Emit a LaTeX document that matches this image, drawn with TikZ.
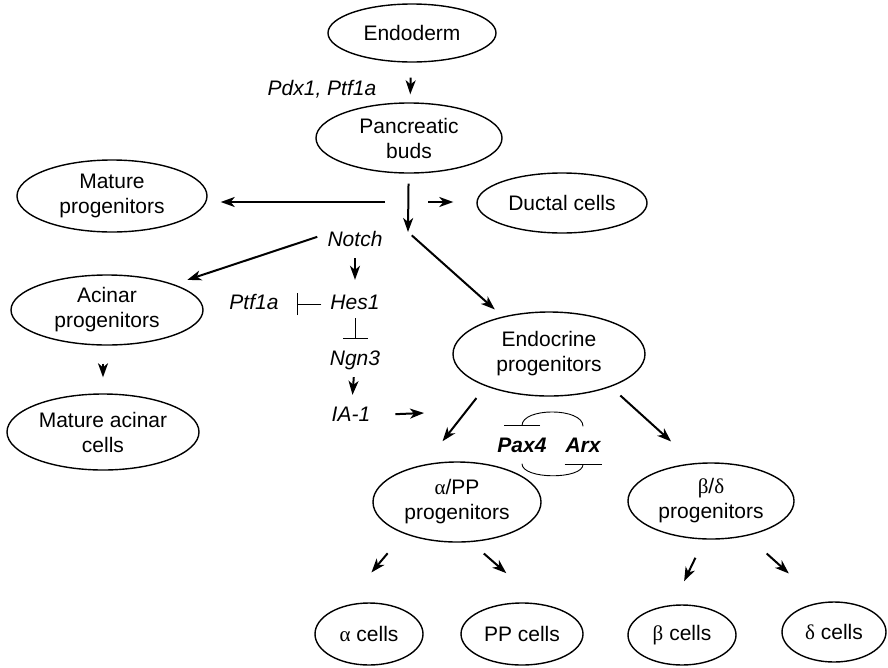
\documentclass[tikz,border=0pt]{standalone}
\usepackage{fontspec}
\setmainfont{Liberation Sans}
\newfontfamily\greekfont{Liberation Serif}
\usetikzlibrary{arrows.meta}
\usetikzlibrary{shapes}
\tikzset{
        celltext/.style={align=center,inner sep=0pt,font=\fontsize{21}{25}\selectfont},
        % Cell populations
        cell_pop/.style={celltext, ellipse, draw=black, line width=1.4pt},
        % Genes and signals
        gene/.style={celltext, font=\fontsize{21}{25}\selectfont\itshape, inner sep=2pt, text height=15pt, text depth=4pt},
        % Genes of the Pax4/Arx loop
        gene_bold/.style={gene, font=\fontsize{21}{25}\selectfont\bfseries\itshape, text depth=0pt, inner ysep=11pt},
        % Activation
        activates/.style={-{Stealth[length=14pt, width=10pt, inset=4pt]}, line width=2pt},
        % Repression
        represses/.style={-{Bar[width=#1]}, line width=0.9pt}
}

\begin{document}
\begin{tikzpicture}[x=1pt, y=-1pt]
            \useasboundingbox (0,0) rectangle (888,667);

            % cell types
            \node[cell_pop, minimum width=168pt, minimum height=58pt] (endoderm) at (412,33) {Endoderm};
            \node[cell_pop, minimum width=186pt, minimum height=70pt] (buds) at (409,138) {Pancreatic\\buds};
            \node[cell_pop, minimum width=190pt, minimum height=72pt] (mature_prog) at (112,196) {Mature\\progenitors};
            \node[cell_pop, minimum width=170pt, minimum height=60pt] (ductal) at (562,203) {Ductal cells};
            \node[cell_pop, minimum width=192pt, minimum height=70pt] (acinar) at (107,310) {Acinar\\progenitors};
            \node[cell_pop, minimum width=192pt, minimum height=76pt] (mature_acinar) at (103,432) {Mature acinar\\cells};
            \node[cell_pop, minimum width=192pt, minimum height=84pt] (endocrine) at (549,354) {Endocrine\\progenitors};
            \node[cell_pop, minimum width=168pt, minimum height=80pt] (alpha_pp) at (457,502) {{\greekfont α}/PP\\progenitors};
            \node[cell_pop, minimum width=166pt, minimum height=76pt] (beta_delta) at (711,501) {{\greekfont β}/{\greekfont δ}\\progenitors};
            \node[cell_pop, minimum width=108pt, minimum height=62pt] (alpha) at (369,634) {{\greekfont α} cells};
            \node[cell_pop, minimum width=122pt, minimum height=62pt] (pp) at (522,634) {PP cells};
            \node[cell_pop, minimum width=108pt, minimum height=60pt] (beta) at (682,635) {{\greekfont β} cells};
            \node[cell_pop, minimum width=104pt, minimum height=60pt] (delta) at (834,632) {{\greekfont δ} cells};

            % genes
            \node[gene] (pdx) at (322,90) {Pdx1, Ptf1a};
            \node[gene] (notch) at (355,241) {Notch};
            \node[gene] (hes) at (355,304) {Hes1};
            \node[gene] (ptf) at (254,304) {Ptf1a};
            \node[gene] (ngn) at (355,360) {Ngn3};
            \node[gene] (ia) at (351,416) {IA-1};
            \node[gene_bold] (pax) at (522,445) {Pax4};
            \node[gene_bold] (arx) at (583,445) {Arx};

            \coordinate (split) at (408,202);
            \coordinate (split_tip) at (408,232);
            \coordinate (ia_tip) at (424,413);

            \draw[activates, shorten <=15pt, shorten >=8pt] (endoderm) -- (buds);
            \draw[activates, shorten <=10pt] (buds) -- (split_tip);
            \draw[activates, shorten <=23pt, shorten >=13pt] (split) -- (split -| mature_prog.east);
            \draw[activates, shorten <=20pt, shorten >=23pt] (split) -- (split -| ductal.west);
            \draw[activates, shorten <=5pt, shorten >=10.6pt] (split_tip) -- (endocrine.141);
            \draw[activates, shorten <=8.6pt, shorten >=14pt] (notch.167) -- (acinar.21.7);
            \draw[activates, shorten <=18pt, shorten >=16pt] (acinar.south -| mature_acinar.north) -- (mature_acinar.north);
            \draw[activates, shorten <=5.5pt, shorten >=12.5pt] (notch) -- (hes);
            \draw[represses=22pt, shorten <=7pt, shorten >=16pt] (hes) -- (ptf);
            \draw[represses=25pt, shorten <=2.5pt, shorten >=9.5pt] (hes) -- (ngn);
            \draw[activates, shorten <=5.5pt, shorten >=9.5pt] (ngn) -- (ia);
            \draw[activates, shorten <=23pt] (ia) -- (ia_tip);

            \draw[activates, shorten <=15pt, shorten >=29.5pt] (endocrine.207.6) -- (alpha_pp.131.3);
            \draw[activates, shorten <=12.9pt, shorten >=32.1pt] (endocrine.332.4) -- (beta_delta.113.8);
            \draw[represses=36pt] (arx.north) .. controls +(0,-19) and +(0,-19) .. (pax.north);
            \draw[represses=37pt] (pax.south) .. controls +(0,16) and +(0,16) .. (arx.south);

            \draw[activates, shorten <=25.5pt, shorten >=44.1pt] (alpha_pp.211.5) -- (alpha.133.1);
            \draw[activates, shorten <=17.3pt, shorten >=46.8pt] (alpha_pp.289.8) -- (pp.57.8);
            \draw[activates, shorten <=20.2pt, shorten >=26.1pt] (beta_delta.260.5) -- (beta.107.5);
            \draw[activates, shorten <=26.3pt, shorten >=43pt] (beta_delta.316.1) -- (delta.114.6);
\end{tikzpicture}
\end{document}
